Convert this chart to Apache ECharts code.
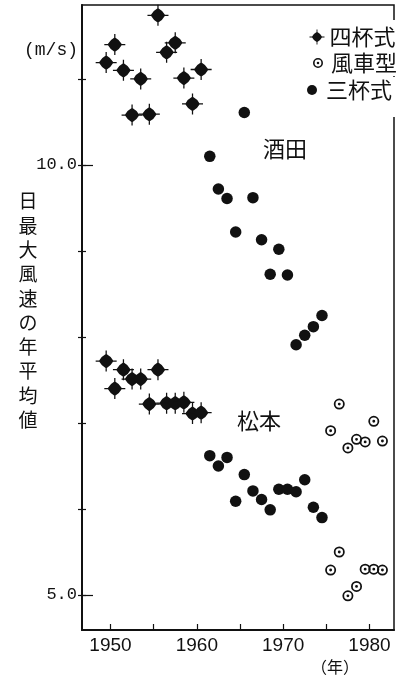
<!DOCTYPE html>
<html><head><meta charset="utf-8">
<script src="https://cdn.jsdelivr.net/npm/echarts@6/dist/echarts.min.js"></script>
<style>html,body{margin:0;padding:0;background:#fff}#c{width:407px;height:688px}</style>
</head><body><div id="c"></div>
<script>
// ---- data (annual mean of daily max wind speed, m/s) ----
const fourCupYears = [1949,1950,1951,1952,1953,1954,1955,1956,1957,1958,1959,1960];
const threeCupYears = [1961,1962,1963,1964,1965,1966,1967,1968,1969,1970,1971,1972,1973,1974];
const windmillYears = [1975,1976,1977,1978,1979,1980,1981];

const sakataFourCup = [11.19,11.40,11.10,10.58,11.00,10.59,11.74,11.31,11.42,11.01,10.71,11.11];
const sakataThreeCup = [10.10,9.72,9.61,9.22,10.61,9.62,9.13,8.73,9.02,8.72,7.91,8.02,8.12,8.25];
const sakataWindmill = [6.91,7.22,6.71,6.81,6.78,7.02,6.79];

const matsumotoFourCup = [7.72,7.40,7.62,7.51,7.51,7.22,7.62,7.23,7.23,7.24,7.11,7.12];
const matsumotoThreeCup = [6.62,6.50,6.60,6.09,6.40,6.21,6.11,5.99,6.23,6.23,6.20,6.34,6.02,5.90];
const matsumotoWindmill = [5.29,5.50,4.99,5.10,5.30,5.30,5.29];

const seriesNames = ['四杯式','風車型','三杯式'];
const xTickValues = [1950,1955,1960,1965,1970,1975,1980];
const xLabelValues = [1950,1960,1970,1980];
const yTickValues = [5,6,7,8,9,10,11];
const yLabelValues = [5,10];
const stationLabels = ['酒田','松本'];
const yTitle = '日最大風速の年平均値';
const yUnit = '(m/s)';
const xUnit = '（年）';

const MID = 0.5; // annual values plotted at mid-year
const pair = (years, vals) => years.map((y,i)=>[y+MID, vals[i]]);

const FOURCUP_PATH = 'path://M0,-7Q4.6,-4.6,7,0Q4.6,4.6,0,7Q-4.6,4.6,-7,0Q-4.6,-4.6,0,-7ZM-10,-0.6L10,-0.6L10,0.6L-10,0.6ZM-0.6,-10L0.6,-10L0.6,10L-0.6,10Z';
const WINDMILL_PATH = 'path://M5,0A5,5,0,1,1,-5,0A5,5,0,1,1,5,0ZM3.4,0A3.4,3.4,0,1,0,-3.4,0A3.4,3.4,0,1,0,3.4,0ZM1.3,0A1.3,1.3,0,1,1,-1.3,0A1.3,1.3,0,1,1,1.3,0Z';

const INK = '#111';
const CJK = '"Noto Sans CJK JP", sans-serif';
const YMIN = 4.593, YMAX = 11.86;

const chart = echarts.init(document.getElementById('c'), null, {renderer:'canvas'});

const yBase = {type:'value', min:YMIN, max:YMAX, position:'left', offset:0,
  splitLine:{show:false}, axisLine:{show:false}, axisLabel:{show:false}};

const legendBase = (name, icon, w, h, left, top, padding, extraText) => ({
  data:[{name, icon, itemStyle:{opacity:1}}], orient:'vertical', left, top, itemWidth:w, itemHeight:h,
  padding, backgroundColor:'#fff', selectedMode:false, z:10,
  textStyle:Object.assign({fontSize:22, fontFamily:CJK, color:INK}, extraText||{})
});

const markStyle = {color:INK, opacity:1};

chart.setOption({
  animation:false,
  backgroundColor:'#fff',
  grid:{left:82, right:13, top:5, bottom:58, show:true, borderColor:INK, borderWidth:1.5, outerBoundsMode:'none'},
  xAxis:{type:'value', min:1946.7, max:1982.84,
    axisLine:{lineStyle:{color:INK, width:2}},
    axisTick:{inside:true, length:6, customValues:xTickValues, lineStyle:{color:INK, width:1.2}},
    axisLabel:{customValues:xLabelValues, formatter:v=>String(v), fontSize:19, color:INK, fontFamily:'Liberation Sans', margin:6},
    splitLine:{show:false}},
  yAxis:[
    Object.assign({}, yBase, {axisLine:{show:true, lineStyle:{color:INK, width:2}},
      axisTick:{show:true, inside:false, length:4, customValues:yTickValues, lineStyle:{color:INK, width:1.2}},
      axisLabel:{show:true, customValues:yLabelValues, formatter:v=>v.toFixed(1), fontSize:17, color:INK, fontFamily:'Liberation Mono', margin:5}}),
    Object.assign({}, yBase, {axisTick:{show:true, inside:true, length:4, customValues:yTickValues, lineStyle:{color:INK, width:1.2}}}),
    Object.assign({}, yBase, {axisTick:{show:true, inside:true, length:11, customValues:yLabelValues, lineStyle:{color:INK, width:1.2}}})
  ],
  legend:[
    legendBase(seriesNames[0], FOURCUP_PATH, 15, 15, 309.5, 20, [6,3,2,0]),
    legendBase(seriesNames[1], WINDMILL_PATH, 10, 10, 313, 50, [2,3,2,0], {padding:[0,0,0,3]}),
    legendBase(seriesNames[2], 'circle', 18, 10, 307, 77, [2,3,16,0])
  ],
  graphic:[
    {type:'text', x:78, y:50, style:{text:yUnit, fontSize:18, fontFamily:'Liberation Mono', fill:INK, align:'right', verticalAlign:'middle'}},
    {type:'text', x:28, y:189, style:{text:yTitle.split('').join('\n'), fontSize:19, lineHeight:24.3, fontFamily:CJK, fill:INK, align:'center', verticalAlign:'top'}},
    {type:'text', x:335, y:667, style:{text:xUnit, fontSize:16, fontFamily:CJK, fill:INK, align:'center', verticalAlign:'middle'}},
    {type:'text', x:285, y:149, style:{text:stationLabels[0], fontSize:22, fontFamily:CJK, fill:INK, align:'center', verticalAlign:'middle'}},
    {type:'text', x:259, y:421, style:{text:stationLabels[1], fontSize:22, fontFamily:CJK, fill:INK, align:'center', verticalAlign:'middle'}}
  ],
  series:[
    {name:seriesNames[0], type:'scatter', symbol:FOURCUP_PATH, symbolSize:21,
      itemStyle:markStyle, data:pair(fourCupYears, sakataFourCup).concat(pair(fourCupYears, matsumotoFourCup))},
    {name:seriesNames[1], type:'scatter', symbol:WINDMILL_PATH, symbolSize:11,
      itemStyle:markStyle, data:pair(windmillYears, sakataWindmill).concat(pair(windmillYears, matsumotoWindmill))},
    {name:seriesNames[2], type:'scatter', symbol:'circle', symbolSize:11.5,
      itemStyle:markStyle, data:pair(threeCupYears, sakataThreeCup).concat(pair(threeCupYears, matsumotoThreeCup))}
  ]
});
</script></body></html>
